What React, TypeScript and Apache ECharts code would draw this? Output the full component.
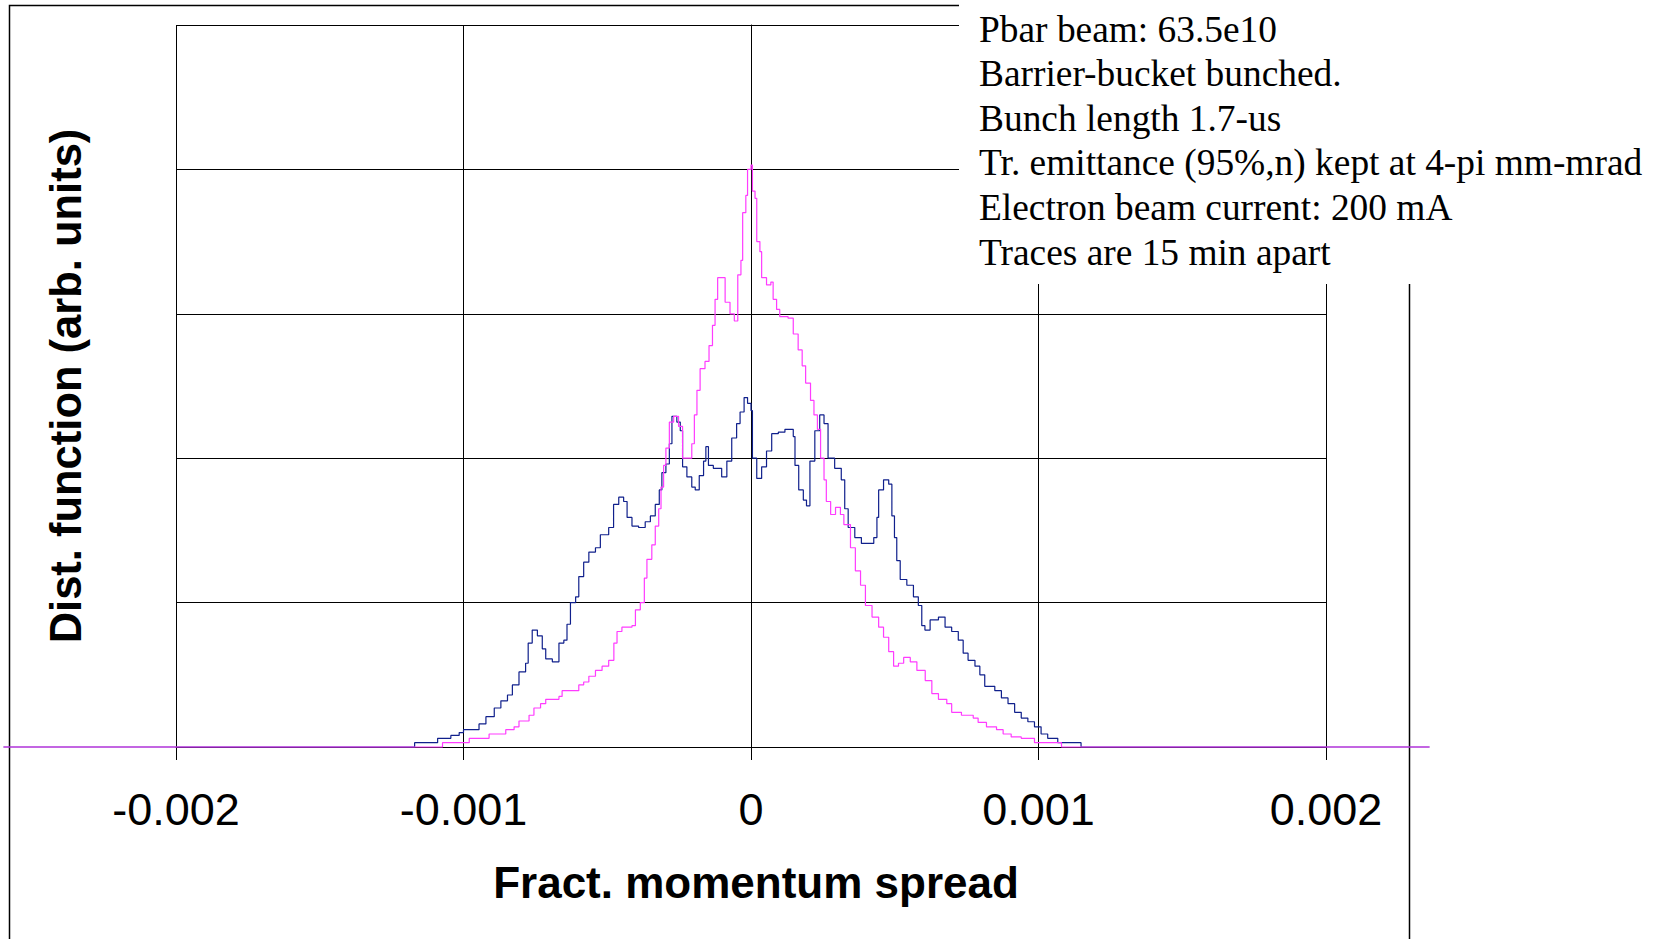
import React, { useEffect, useRef } from "react";
import * as echarts from "echarts";

// Fractional momentum spread (x) and distribution function (arb. units)
const blueX = [
  -2.6e-3, -1.252e-3, -1.17e-3, -1.09e-3, -1.044e-3, -1.015e-3, -1.0e-3, -0.946e-3, -0.922e-3, -0.893e-3,
  -0.87e-3, -0.847e-3, -0.83e-3, -0.807e-3, -0.784e-3, -0.775e-3, -0.761e-3, -0.743e-3, -0.726e-3, -0.714e-3,
  -0.691e-3, -0.668e-3, -0.651e-3, -0.64e-3, -0.628e-3, -0.61e-3, -0.599e-3, -0.582e-3, -0.564e-3, -0.541e-3,
  -0.524e-3, -0.495e-3, -0.478e-3, -0.46e-3, -0.443e-3, -0.431e-3, -0.414e-3, -0.391e-3, -0.368e-3, -0.35e-3,
  -0.333e-3, -0.319e-3, -0.31e-3, -0.296e-3, -0.284e-3, -0.275e-3, -0.258e-3, -0.246e-3, -0.238e-3, -0.223e-3,
  -0.206e-3, -0.194e-3, -0.18e-3, -0.165e-3, -0.157e-3, -0.148e-3, -0.131e-3, -0.102e-3, -0.084e-3, -0.067e-3,
  -0.05e-3, -0.038e-3, -0.024e-3, -0.012e-3, 0, 0.005e-3, 0.02e-3, 0.037e-3, 0.054e-3, 0.072e-3,
  0.095e-3, 0.118e-3, 0.147e-3, 0.153e-3, 0.166e-3, 0.182e-3, 0.193e-3, 0.205e-3, 0.222e-3, 0.239e-3,
  0.254e-3, 0.268e-3, 0.291e-3, 0.314e-3, 0.326e-3, 0.338e-3, 0.361e-3, 0.384e-3, 0.407e-3, 0.427e-3,
  0.438e-3, 0.444e-3, 0.461e-3, 0.479e-3, 0.49e-3, 0.499e-3, 0.507e-3, 0.519e-3, 0.542e-3, 0.565e-3,
  0.582e-3, 0.594e-3, 0.605e-3, 0.623e-3, 0.652e-3, 0.675e-3, 0.698e-3, 0.721e-3, 0.738e-3, 0.755e-3,
  0.779e-3, 0.796e-3, 0.813e-3, 0.848e-3, 0.871e-3, 0.894e-3, 0.917e-3, 0.94e-3, 0.963e-3, 0.986e-3,
  1.009e-3, 1.032e-3, 1.067e-3, 1.148e-3, 2.36e-3,
];
const blueY = [
  0, 0, 0.03, 0.06, 0.08, 0.1, 0.12, 0.16, 0.21, 0.27,
  0.32, 0.36, 0.43, 0.52, 0.58, 0.72, 0.81, 0.77, 0.68, 0.61,
  0.59, 0.72, 0.74, 0.85, 1.0, 1.04, 1.18, 1.28, 1.35, 1.38,
  1.47, 1.52, 1.68, 1.73, 1.7, 1.59, 1.53, 1.52, 1.56, 1.6,
  1.68, 1.78, 1.9, 1.96, 2.1, 2.29, 2.25, 2.19, 1.94, 1.87,
  1.8, 1.78, 1.88, 1.98, 2.08, 1.95, 1.93, 1.87, 1.98, 2.14,
  2.24, 2.32, 2.42, 2.38, 2.33, 2.0, 1.86, 1.94, 2.05, 2.17,
  2.18, 2.2, 2.15, 1.95, 1.78, 1.71, 1.67, 1.98, 2.19, 2.3,
  2.24, 2.0, 1.93, 1.85, 1.65, 1.52, 1.45, 1.41, 1.41, 1.45,
  1.59, 1.78, 1.85, 1.82, 1.6, 1.45, 1.29, 1.16, 1.12, 1.04,
  0.98, 0.84, 0.81, 0.88, 0.9, 0.83, 0.8, 0.74, 0.65, 0.6,
  0.56, 0.5, 0.42, 0.39, 0.34, 0.3, 0.24, 0.2, 0.175, 0.14,
  0.09, 0.06, 0.03, 0, 0,
];

const magentaX = [
  -2.6e-3, -1.073e-3, -0.98e-3, -0.911e-3, -0.853e-3, -0.824e-3, -0.807e-3, -0.772e-3, -0.755e-3, -0.732e-3,
  -0.714e-3, -0.668e-3, -0.657e-3, -0.599e-3, -0.582e-3, -0.564e-3, -0.541e-3, -0.518e-3, -0.495e-3, -0.477e-3,
  -0.466e-3, -0.449e-3, -0.414e-3, -0.402e-3, -0.385e-3, -0.371e-3, -0.362e-3, -0.345e-3, -0.333e-3, -0.321e-3,
  -0.313e-3, -0.304e-3, -0.296e-3, -0.284e-3, -0.269e-3, -0.252e-3, -0.238e-3, -0.212e-3, -0.206e-3, -0.197e-3,
  -0.188e-3, -0.177e-3, -0.16e-3, -0.146e-3, -0.134e-3, -0.125e-3, -0.116e-3, -0.099e-3, -0.09e-3, -0.073e-3,
  -0.058e-3, -0.046e-3, -0.035e-3, -0.029e-3, -0.018e-3, -0.012e-3, 0, 0.005e-3, 0.014e-3, 0.02e-3,
  0.031e-3, 0.037e-3, 0.054e-3, 0.069e-3, 0.077e-3, 0.089e-3, 0.1e-3, 0.129e-3, 0.147e-3, 0.164e-3,
  0.178e-3, 0.19e-3, 0.207e-3, 0.219e-3, 0.231e-3, 0.242e-3, 0.254e-3, 0.262e-3, 0.277e-3, 0.294e-3,
  0.311e-3, 0.323e-3, 0.346e-3, 0.363e-3, 0.381e-3, 0.398e-3, 0.421e-3, 0.444e-3, 0.461e-3, 0.479e-3,
  0.496e-3, 0.513e-3, 0.531e-3, 0.554e-3, 0.577e-3, 0.606e-3, 0.629e-3, 0.652e-3, 0.681e-3, 0.698e-3,
  0.732e-3, 0.773e-3, 0.79e-3, 0.819e-3, 0.854e-3, 0.877e-3, 0.905e-3, 0.94e-3, 0.986e-3, 1.08e-3,
  2.36e-3,
];
const magentaY = [
  0, 0.03, 0.06, 0.09, 0.12, 0.14, 0.18, 0.22, 0.27, 0.3,
  0.33, 0.35, 0.39, 0.43, 0.45, 0.49, 0.53, 0.56, 0.6, 0.72,
  0.8, 0.83, 0.84, 0.95, 1.0, 1.17, 1.3, 1.4, 1.53, 1.65,
  1.8, 1.95, 2.07, 2.25, 2.29, 2.22, 2.0, 2.0, 2.1, 2.3,
  2.47, 2.62, 2.67, 2.78, 2.92, 3.1, 3.25, 3.25, 3.08, 3.0,
  2.95, 3.27, 3.37, 3.7, 3.82, 4.0, 4.03, 3.85, 3.8, 3.5,
  3.43, 3.25, 3.2, 3.22, 3.1, 3.03, 2.98, 2.97, 2.86, 2.75,
  2.64, 2.52, 2.4, 2.3, 2.2, 2.0, 1.85, 1.7, 1.61, 1.66,
  1.61, 1.54, 1.38, 1.22, 1.12, 0.98, 0.9, 0.83, 0.76, 0.66,
  0.56, 0.58, 0.62, 0.59, 0.53, 0.46, 0.37, 0.33, 0.3, 0.24,
  0.22, 0.2, 0.17, 0.14, 0.12, 0.09, 0.07, 0.06, 0.03, 0,
  0,
];

// Visible axis (ticks, grid lines) and the full data span of the traces
const xTicks = { min: -0.002, max: 0.002, interval: 0.001 };
const xDataSpan = { min: -0.0026, max: 0.00236 };
const yTicks = { min: 0, max: 5, interval: 1 };

const noteLines = [
  "Pbar beam: 63.5e10",
  "Barrier-bucket bunched.",
  "Bunch length 1.7-us",
  "Tr. emittance (95%,n) kept at 4-pi mm-mrad",
  "Electron beam current: 200 mA",
  "Traces are 15 min apart",
];

const xName = "Fract. momentum spread";
const yName = "Dist. function (arb. units)";

export default function App() {
  const ref = useRef<HTMLDivElement>(null);

  useEffect(() => {
    if (!ref.current) return;
    const chart = echarts.init(ref.current, null, { renderer: "svg" });
    const pair = (xs: number[], ys: number[]) => xs.map((x, i) => [x, ys[i]]);
    const axisName = {
      fontFamily: "Liberation Sans",
      fontWeight: "bold" as const,
      fontSize: 44,
      color: "#000",
    };
    // pixel scale of the visible axis
    const gLeft = 176;
    const gWidth = 1150;
    const pxPerUnit = gWidth / (xTicks.max - xTicks.min);
    const g2Left = gLeft - (xTicks.min - xDataSpan.min) * pxPerUnit;
    const g2Width = (xDataSpan.max - xDataSpan.min) * pxPerUnit;

    chart.setOption({
      animation: false,
      backgroundColor: "#fff",
      grid: [
        { left: gLeft, top: 25, width: gWidth, height: 722, containLabel: false },
        { left: g2Left, top: 25, width: g2Width, height: 722, containLabel: false },
      ],
      xAxis: [
        {
          type: "value",
          gridIndex: 0,
          min: xTicks.min,
          max: xTicks.max,
          interval: xTicks.interval,
          name: xName,
          nameLocation: "middle",
          nameGap: 113,
          nameTextStyle: { ...axisName, padding: [0, 0, 0, 10] },
          axisLine: { show: true, onZero: false, lineStyle: { color: "#000", width: 1 } },
          axisTick: { show: true, length: 13, lineStyle: { color: "#000", width: 1 } },
          axisLabel: {
            fontFamily: "Liberation Sans",
            fontSize: 45,
            color: "#000",
            margin: 40,
          },
          splitLine: { show: true, lineStyle: { color: "#000", width: 1 } },
        },
        {
          type: "value",
          gridIndex: 1,
          min: xDataSpan.min,
          max: xDataSpan.max,
          show: false,
        },
      ],
      yAxis: [
        {
          type: "value",
          gridIndex: 0,
          min: yTicks.min,
          max: yTicks.max,
          interval: yTicks.interval,
          name: yName,
          nameLocation: "middle",
          nameGap: 88,
          nameTextStyle: { ...axisName, fontSize: 43.5 },
          axisLine: { show: true, lineStyle: { color: "#000", width: 1 } },
          axisTick: { show: true, length: 14, lineStyle: { color: "#000", width: 1 } },
          axisLabel: { show: false },
          splitLine: { show: true, lineStyle: { color: "#000", width: 1 } },
        },
        {
          type: "value",
          gridIndex: 1,
          min: yTicks.min,
          max: yTicks.max,
          show: false,
        },
      ],
      series: [
        {
          type: "line",
          name: "t1",
          xAxisIndex: 1,
          yAxisIndex: 1,
          data: pair(blueX, blueY),
          step: "end",
          showSymbol: false,
          symbol: "none",
          clip: false,
          lineStyle: { color: "#10208c", width: 1.2 },
          z: 3,
        },
        {
          type: "line",
          name: "t2",
          xAxisIndex: 1,
          yAxisIndex: 1,
          data: pair(magentaX, magentaY),
          step: "end",
          showSymbol: false,
          symbol: "none",
          clip: false,
          lineStyle: { color: "#ff3cff", width: 1.2 },
          z: 4,
        },
      ],
      graphic: [
        {
          type: "rect",
          z: 1,
          silent: true,
          shape: { x: 9.5, y: 5.5, width: 1400, height: 1000 },
          style: { fill: "none", stroke: "#000", lineWidth: 1.5 },
        },
        {
          type: "rect",
          z: 100,
          silent: true,
          shape: { x: 959, y: 0, width: 706, height: 284 },
          style: { fill: "#fff", stroke: "none" },
        },
        ...noteLines.map((t, i) => ({
          type: "text",
          z: 101,
          silent: true,
          x: 979,
          y: 29 + i * 44.6,
          style: {
            text: t,
            fontFamily: "Liberation Serif",
            fontSize: 37.4,
            fill: "#000",
            textVerticalAlign: "middle",
            verticalAlign: "middle",
          },
        })),
      ],
    });
    return () => chart.dispose();
  }, []);

  return (
    <div
      ref={ref}
      style={{ position: "absolute", left: 0, top: 0, width: 1665, height: 939 }}
    />
  );
}
